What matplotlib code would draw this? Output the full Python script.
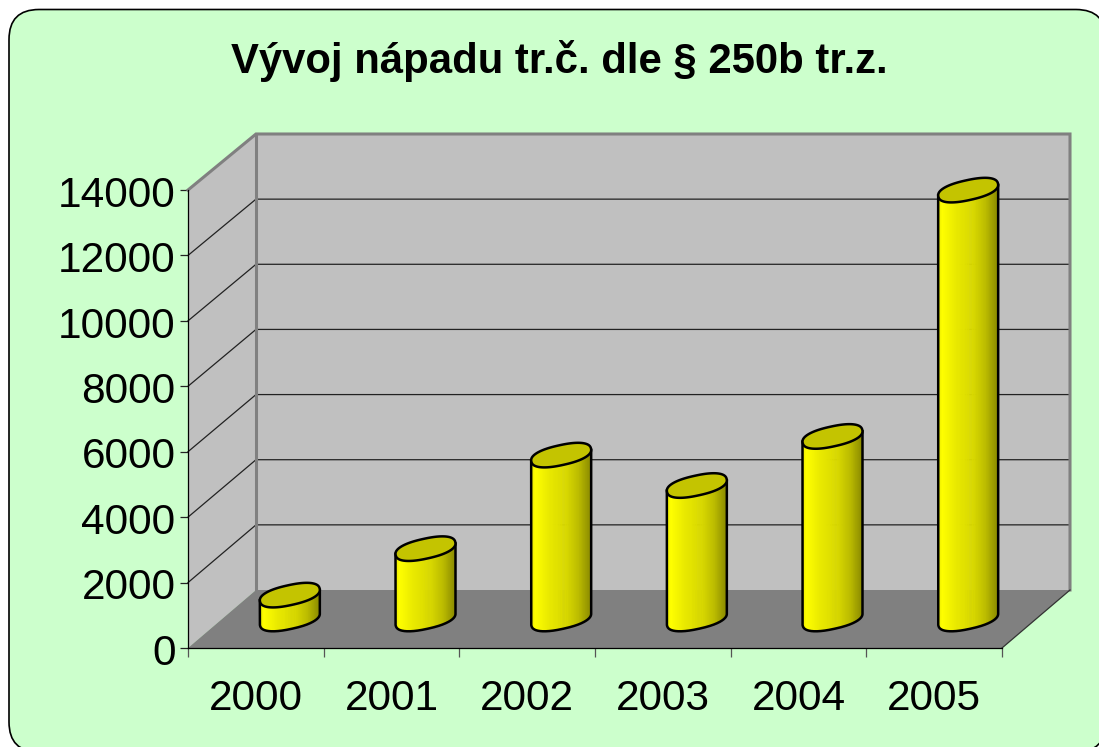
import numpy as np
import matplotlib
matplotlib.use('Agg')
import matplotlib.pyplot as plt
from matplotlib.patches import FancyBboxPatch, Polygon
from matplotlib.colors import LinearSegmentedColormap
from matplotlib.transforms import ScaledTranslation

plt.rcParams['font.family'] = ['Liberation Sans', 'DejaVu Sans']

title = 'Vývoj nápadu tr.č. dle § 250b tr.z.'
years = ['2000', '2001', '2002', '2003', '2004', '2005']
values = [730, 2150, 5010, 4080, 5580, 13110]
yticks = [0, 2000, 4000, 6000, 8000, 10000, 12000, 14000]

W, H = 1099, 747
fig = plt.figure(figsize=(W / 100, H / 100), dpi=100, facecolor='white')

# panel background in pixel coordinates; it runs past the right and bottom edges
bg = fig.add_axes([0, 0, 1, 1], zorder=0)
bg.set_xlim(0, W)
bg.set_ylim(H, 0)
bg.axis('off')
bx0, by0, bx1, by1, rad = 9, 9.5, 1106, 752, 30
bg.add_patch(FancyBboxPatch((bx0 + rad, by0 + rad), bx1 - bx0 - 2 * rad, by1 - by0 - 2 * rad,
                            boxstyle=f'round,pad={rad},rounding_size={rad}',
                            fc='#ccffcc', ec='black', lw=1.2, clip_on=False))

L, R, T, B = 188, 1002, 190, 648
ax = fig.add_axes([L / W, (H - B) / H, (R - L) / W, (B - T) / H], zorder=1)
ax.patch.set_visible(False)
ax.set_xlim(0, len(years))
ax.set_ylim(0, 14000)

# depth of the oblique projection, in data units
px_x = len(years) / (R - L)
px_y = 14000 / (B - T)
dx, dy = 68 * px_x, 58 * px_y
xmax, ymax = len(years), 14000


def back(v):
    return dy + v * 456 / 458


# walls and floor
ax.add_patch(Polygon([(0, 0), (dx, back(0)), (dx, back(ymax)), (0, ymax)], closed=True,
                     fc='#c0c0c0', ec='none', clip_on=False, zorder=1))
ax.add_patch(Polygon([(dx, back(0)), (xmax + dx, back(0)), (xmax + dx, back(ymax)), (dx, back(ymax))], closed=True,
                     fc='#c0c0c0', ec='none', clip_on=False, zorder=1))
ax.add_patch(Polygon([(0, 0), (dx, back(0)), (xmax + dx, back(0)), (xmax, 0)], closed=True,
                     fc='#808080', ec='none', clip_on=False, zorder=1))

# gridlines
for v in yticks[1:-1]:
    ax.plot([0, dx, xmax + dx], [v, back(v), back(v)], color='#222222', lw=0.9,
            clip_on=False, zorder=2, solid_joinstyle='miter')

# wall borders
ax.plot([0, dx, xmax + dx, xmax + dx], [ymax, back(ymax), back(ymax), back(0)], color='#808080', lw=2.2,
        clip_on=False, zorder=3, solid_joinstyle='miter')
ax.plot([dx, dx], [back(0), back(ymax)], color='#808080', lw=2.2, clip_on=False, zorder=3)
ax.plot([xmax, xmax + dx], [0, back(0)], color='#333333', lw=0.9, clip_on=False, zorder=3)

# cylinders: rounded, tilted cross-section (pixel sizes turned into data units)
tilt = np.radians(13)
tparam = np.linspace(0, 2 * np.pi, 361)
cs = np.sign(np.cos(tparam)) * np.abs(np.cos(tparam)) ** 0.85
sn = np.sign(np.sin(tparam)) * np.abs(np.sin(tparam)) ** 0.85
semi_a, semi_b = 31 * cs, 10.5 * sn
ring = np.vstack([semi_a * np.cos(tilt) - semi_b * np.sin(tilt),
                  semi_a * np.sin(tilt) + semi_b * np.cos(tilt)])
ring[0] *= 30 / np.abs(ring[0]).max()
ring[1] *= 12.3 / np.abs(ring[1]).max()
ring_x, ring_y = ring[0] * px_x, ring[1] * px_y
# front half of the outline: from the leftmost to the rightmost point along the lower side
il, ir = int(np.argmin(ring_x[:-1])), int(np.argmax(ring_x[:-1]))
front = (il + np.arange((ir - il) % 360 + 1)) % 360
if ring_y[front[len(front) // 2]] > 0:
    front = (il - np.arange((il - ir) % 360 + 1)) % 360
ex, ey = ring_x[front], ring_y[front]

cmap = LinearSegmentedColormap.from_list('cyl', [(0, '#e8e800'), (0.07, '#ffff00'), (0.3, '#eaea00'),
                                                 (0.6, '#d8d800'), (0.8, '#bcbc00'), (1, '#8c8c00')])

for i, val in enumerate(values):
    cx = i + 0.5 + dx / 2
    cy = dy / 2
    for k in range(0, len(ex) - 1):
        xs = [cx + ex[k], cx + ex[k + 1], cx + ex[k + 1], cx + ex[k]]
        ys = [cy + ey[k], cy + ey[k + 1], cy + val + ey[k + 1], cy + val + ey[k]]
        col = cmap((ex[k] + ex[k + 1]) / 2 / (2 * np.abs(ring_x).max()) + 0.5)
        ax.add_patch(Polygon(np.c_[xs, ys], closed=True, fc=col, ec=col, lw=0.4,
                             clip_on=False, zorder=4))
    ax.plot(np.r_[cx + ex[0], cx + ex, cx + ex[-1]],
            np.r_[cy + val + ey[0], cy + ey, cy + val + ey[-1]],
            color='black', lw=1.8, clip_on=False, zorder=5, solid_joinstyle='round')
    ax.add_patch(Polygon(np.c_[cx + ring_x, cy + val + ring_y], closed=True, fc='#c4c400', ec='black',
                         lw=1.8, clip_on=False, zorder=6))

# axes
for s in ('top', 'right'):
    ax.spines[s].set_visible(False)
ax.spines['left'].set_linewidth(0.9)
ax.spines['bottom'].set_linewidth(0.9)
ax.spines['left'].set_zorder(7)
ax.spines['bottom'].set_zorder(7)
ax.set_yticks(yticks)
ax.set_yticklabels([str(v) for v in yticks], fontsize=30.5, color='black')
ax.tick_params(axis='y', length=6, width=0.9, pad=3, color='#222222')
nudge = ScaledTranslation(0, -1.2 / 100, fig.dpi_scale_trans)
for lab in ax.get_yticklabels():
    lab.set_transform(lab.get_transform() + nudge)
ax.set_xticks(range(len(years) + 1))
ax.set_xticklabels([])
ax.set_xticks(np.arange(len(years)) + 0.5, minor=True)
ax.set_xticklabels(years, minor=True, fontsize=30.5, color='black')
ax.tick_params(axis='x', which='major', length=6.5, width=0.9, color='#555555')
ax.tick_params(axis='x', which='minor', length=0, pad=22)

fig.text(559 / W, 1 - 61 / H, title, fontsize=30.2, fontweight='bold', ha='center', va='center', color='black')

fig.savefig('out.png', dpi=100)
